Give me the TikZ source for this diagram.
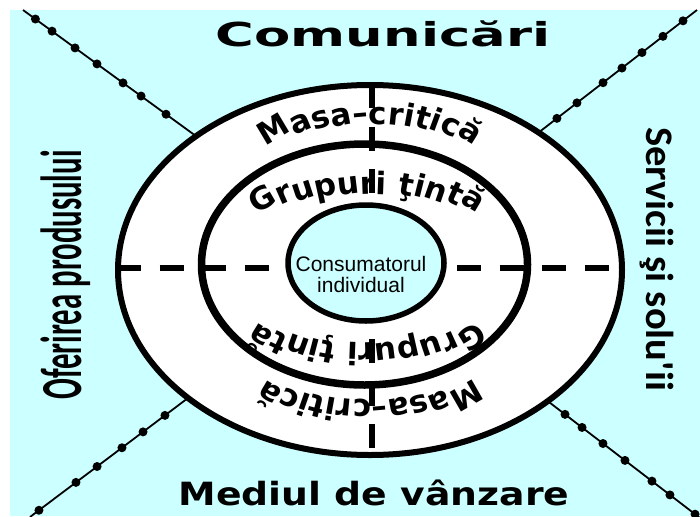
\documentclass[tikz,border=0pt]{standalone}
\usepackage{fontspec}
\setmainfont{Liberation Sans}
\newfontfamily\titlefont{DejaVu Sans}
\newfontfamily\arcfont{DejaVu Sans}
\newfontfamily\sidefont{Carlito}
\usetikzlibrary{decorations.text}
\definecolor{bgcyan}{RGB}{204,255,255}
\newcommand{\arcstyle}{\arcfont\bfseries\fontsize{31}{31}\selectfont}
\tikzset{
  bgrect/.style={fill=bgcyan,draw=none},
  diag/.style={line width=1.8pt,draw=black},
  bead/.style={circle,fill=black,inner sep=0pt,minimum size=9pt},
  ring/.style={draw=black,fill=white},
  core/.style={draw=black,fill=bgcyan,line width=5.5pt},
  dashline/.style={line width=6.5pt,draw=black,dash pattern=on 24pt off 18.5pt},
  arctext/.style={decorate,decoration={text effects along path,text={#1},text align=center,
     text effects/.cd, character count=\ci, character total=\cn,
     character widths={inner sep=0pt, font=\arcstyle},
     characters={text along path, inner sep=0pt, font=\arcstyle,
       rotate={-(\ci-(\cn+1)/2)*2.2}}}},
}
\begin{document}
\begin{tikzpicture}[x=1pt,y=1pt]
\useasboundingbox (0,0) rectangle (700,-516);
\fill[bgrect] (10,-10) rectangle (700,-516);
% diagonal lines with beads
\coordinate (tlA) at (23,-10);   \coordinate (tlB) at (200,-139);
\coordinate (trA) at (697,-10);  \coordinate (trB) at (538,-133);
\coordinate (blA) at (30,-517);  \coordinate (blB) at (196,-392);
\coordinate (brA) at (700,-518); \coordinate (brB) at (545,-399);
\draw[diag] (tlA) -- (tlB)
  node[bead,pos=0.07]{} node[bead,pos=0.164]{} node[bead,pos=0.294]{} node[bead,pos=0.418]{}
  node[bead,pos=0.565]{} node[bead,pos=0.667]{} node[bead,pos=0.808]{};
\draw[diag] (trA) -- (trB)
  node[bead,pos=0.088]{} node[bead,pos=0.214]{} node[bead,pos=0.346]{} node[bead,pos=0.472]{}
  node[bead,pos=0.591]{} node[bead,pos=0.755]{} node[bead,pos=0.881]{};
\draw[diag] (blA) -- (blB)
  node[bead,pos=0.054]{} node[bead,pos=0.277]{} node[bead,pos=0.404]{} node[bead,pos=0.554]{}
  node[bead,pos=0.681]{} node[bead,pos=0.813]{};
\draw[diag] (brA) -- (brB)
  node[bead,pos=0.032]{} node[bead,pos=0.194]{} node[bead,pos=0.31]{} node[bead,pos=0.484]{}
  node[bead,pos=0.626]{} node[bead,pos=0.761]{} node[bead,pos=0.871]{};
% rings
\coordinate (cO) at (370,-270);
\coordinate (cM) at (364.5,-264.5);
\coordinate (cI) at (366,-263);
\draw[ring,line width=6pt] (cO) ellipse [x radius=252pt, y radius=185pt];
\draw[ring,line width=7.5pt] (cM) ellipse [x radius=163pt, y radius=120.5pt];
% dashed cross
\coordinate (hL) at (117,-268); \coordinate (hR) at (625,-268);
\coordinate (vT) at (372,-84);  \coordinate (vB) at (372,-452);
\draw[dashline] (hL) -- (hR);
\draw[dashline] (vT) -- (vB);
% curved texts
\coordinate (tO) at (370,-268);
\coordinate (tM) at (367,-266);
\path[arctext={Masa–critică}]
  ([shift={(150:207pt and 144pt)}]tO) arc[start angle=150,end angle=30,x radius=207pt,y radius=144pt];
\path[arctext={Grupuri ţintă}]
  ([shift={(165:170pt and 72pt)}]tM) arc[start angle=165,end angle=15,x radius=170pt,y radius=72pt];
\path[arctext={Grupuri ţintă}]
  ([shift={(-15:170pt and 77pt)}]tM) arc[start angle=-15,end angle=-165,x radius=170pt,y radius=77pt];
\path[arctext={Masa–critică}]
  ([shift={(-30:205pt and 132pt)}]tO) arc[start angle=-30,end angle=-150,x radius=205pt,y radius=132pt];
% core
\draw[core] (cI) ellipse [x radius=78pt, y radius=58pt];
\node[align=center,inner sep=0pt,font=\fontsize{21}{21}\selectfont] (core) at (361,-274) {Consumatorul\\individual};
% outer labels
\node[anchor=base,inner sep=0pt] (top) at (383,-47)
  {\scalebox{1.6}[1]{\titlefont\bfseries\fontsize{33}{33}\selectfont Comunicări}};
\node[anchor=base,inner sep=0pt] (bottom) at (374,-505)
  {\scalebox{1.18}[1]{\titlefont\bfseries\fontsize{32}{32}\selectfont Mediul de vânzare}};
\node[anchor=base,inner sep=0pt,rotate=90] (left) at (81,-275)
  {\scalebox{0.53}[1]{\sidefont\bfseries\fontsize{58}{58}\selectfont Oferirea produsului}};
\node[anchor=base,inner sep=0pt,rotate=-90] (right) at (646,-259)
  {\scalebox{1.04}[1]{\sidefont\bfseries\fontsize{39}{39}\selectfont Servicii şi solu'ii}};
\end{tikzpicture}
\end{document}
